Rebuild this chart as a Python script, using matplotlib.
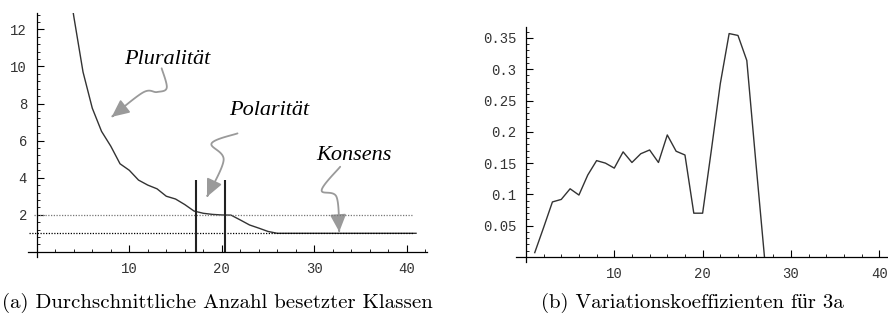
import numpy as np
import matplotlib.pyplot as plt
from matplotlib.path import Path
from matplotlib.patches import FancyArrowPatch
from matplotlib.ticker import MultipleLocator, FixedLocator, FixedFormatter

# (a) mean number of occupied classes
klassen_x = list(range(1, 42))
klassen_y = [30.0, 22.0, 16.0, 12.7, 9.7, 7.75, 6.5, 5.7, 4.75, 4.4,
             3.87, 3.6, 3.4, 3.0, 2.85, 2.55, 2.2, 2.08, 2.02, 1.99,
             1.98, 1.72, 1.45, 1.28, 1.1, 1.0, 1.0, 1.0, 1.0, 1.0,
             1.0, 1.0, 1.0, 1.0, 1.0, 1.0, 1.0, 1.0, 1.0, 1.0, 1.0]
grenzen = [17.25, 20.4]      # vertical markers
grenz_hoehe = 3.85
niveaus = [2, 1]             # dotted reference levels

# (b) coefficients of variation
vk_x = list(range(1, 28))
vk_y = [0.007, 0.047, 0.088, 0.092, 0.109, 0.099, 0.131, 0.154, 0.150, 0.142,
        0.168, 0.151, 0.165, 0.171, 0.151, 0.195, 0.169, 0.163, 0.070, 0.070,
        0.172, 0.277, 0.357, 0.354, 0.314, 0.155, 0.0]
vk_ticks = [0.05, 0.1, 0.15, 0.2, 0.25, 0.3, 0.35]
vk_labels = ["0.05", "0.1", "0.15", "0.2", "0.25", "0.3", "0.35"]

LINE = "#333333"
PFEIL = "#9a9a9a"
MONO = "Liberation Mono"


def achsen_stil(ax):
    for s in ["top", "right"]:
        ax.spines[s].set_visible(False)
    ax.spines["left"].set_position(("data", 0))
    ax.spines["bottom"].set_position(("data", 0))
    for s in ["left", "bottom"]:
        ax.spines[s].set_linewidth(0.9)
    ax.tick_params(which="major", direction="in", length=5, width=0.8,
                   labelsize=10, labelcolor="#333333", pad=7)
    ax.tick_params(which="minor", direction="in", length=2.5, width=0.6)
    for lab in ax.get_xticklabels() + ax.get_yticklabels():
        lab.set_fontfamily(MONO)


def kringel(ax, punkte, n=30):
    # smooth Catmull-Rom curve through the points, arrow head at the end
    p = np.array(punkte, dtype=float)
    p = np.vstack([p[0], p, p[-1]])
    kurve = []
    for i in range(1, len(p) - 2):
        p0, p1, p2, p3 = p[i - 1], p[i], p[i + 1], p[i + 2]
        t = np.linspace(0, 1, n, endpoint=False)[:, None]
        seg = 0.5 * ((2 * p1) + (-p0 + p2) * t
                     + (2 * p0 - 5 * p1 + 4 * p2 - p3) * t ** 2
                     + (-p0 + 3 * p1 - 3 * p2 + p3) * t ** 3)
        kurve.append(seg)
    kurve.append(p[-2][None, :])
    v = np.vstack(kurve)
    codes = [Path.MOVETO] + [Path.LINETO] * (len(v) - 1)
    pfeil = FancyArrowPatch(path=Path(v, codes),
                            arrowstyle="-|>,head_length=0.75,head_width=0.35",
                            mutation_scale=14, color=PFEIL, lw=1.3,
                            transform=ax.transData, clip_on=False)
    ax.add_patch(pfeil)


fig = plt.figure(figsize=(8.88, 3.22), dpi=100)

# ---- left panel
ax1 = fig.add_axes([0.0310, 0.2006, 0.450, 0.760])
ax1.plot(klassen_x, klassen_y, color=LINE, lw=1.0)
ax1.hlines(niveaus[0], -0.3, 40.6, colors="#777777", linestyles=(0, (1, 1.2)), lw=0.9)
ax1.hlines(niveaus[1], -0.8, 40.7, colors="black", linestyles=(0, (1, 1.2)), lw=0.9)
ax1.vlines(grenzen, 0, grenz_hoehe, colors="#222222", lw=1.5)
ax1.set_xlim(-1, 42.2)
ax1.set_ylim(-0.3, 12.9)
ax1.xaxis.set_major_locator(FixedLocator([10, 20, 30, 40]))
ax1.xaxis.set_minor_locator(MultipleLocator(2))
ax1.yaxis.set_major_locator(FixedLocator([2, 4, 6, 8, 10, 12]))
ax1.yaxis.set_minor_locator(MultipleLocator(0.4))
achsen_stil(ax1)

txt = dict(family="Liberation Serif", style="italic", fontsize=16,
           ha="center", va="center", color="black")
ax1.text(14.1, 10.35, "Pluralität", **txt)
ax1.text(25.1, 7.65, "Polarität", **txt)
ax1.text(34.3, 5.22, "Konsens", **txt)
kringel(ax1, [(13.5, 9.9), (14.05, 8.85), (13.0, 8.62), (11.5, 8.6), (8.1, 7.28)])
kringel(ax1, [(21.7, 6.39), (18.9, 5.85), (20.2, 4.95), (18.4, 2.97)])
kringel(ax1, [(32.8, 4.59), (30.8, 3.33), (32.4, 2.97), (32.7, 1.08)])

# ---- right panel
ax2 = fig.add_axes([0.5813, 0.1863, 0.4189, 0.7289])
ax2.plot(vk_x, vk_y, color=LINE, lw=1.0)
ax2.set_xlim(-1.1, 41.0)
ax2.set_ylim(-0.008, 0.367)
ax2.xaxis.set_major_locator(FixedLocator([10, 20, 30, 40]))
ax2.xaxis.set_minor_locator(MultipleLocator(2))
ax2.yaxis.set_major_locator(FixedLocator(vk_ticks))
ax2.yaxis.set_major_formatter(FixedFormatter(vk_labels))
ax2.yaxis.set_minor_locator(MultipleLocator(0.01))
achsen_stil(ax2)

# captions in Computer Modern, Liberation Serif for glyphs cmr10 lacks (ü)
cap = dict(family=["cmr10", "Liberation Serif"], fontsize=15, ha="left", va="center")
fig.text(2 / 888, 0.059, "(a) Durchschnittliche Anzahl besetzter Klassen", **cap)
fig.text(541 / 888, 0.059, "(b) Variationskoeffizienten für 3a", **cap)

fig.savefig("out.png", dpi=100)
